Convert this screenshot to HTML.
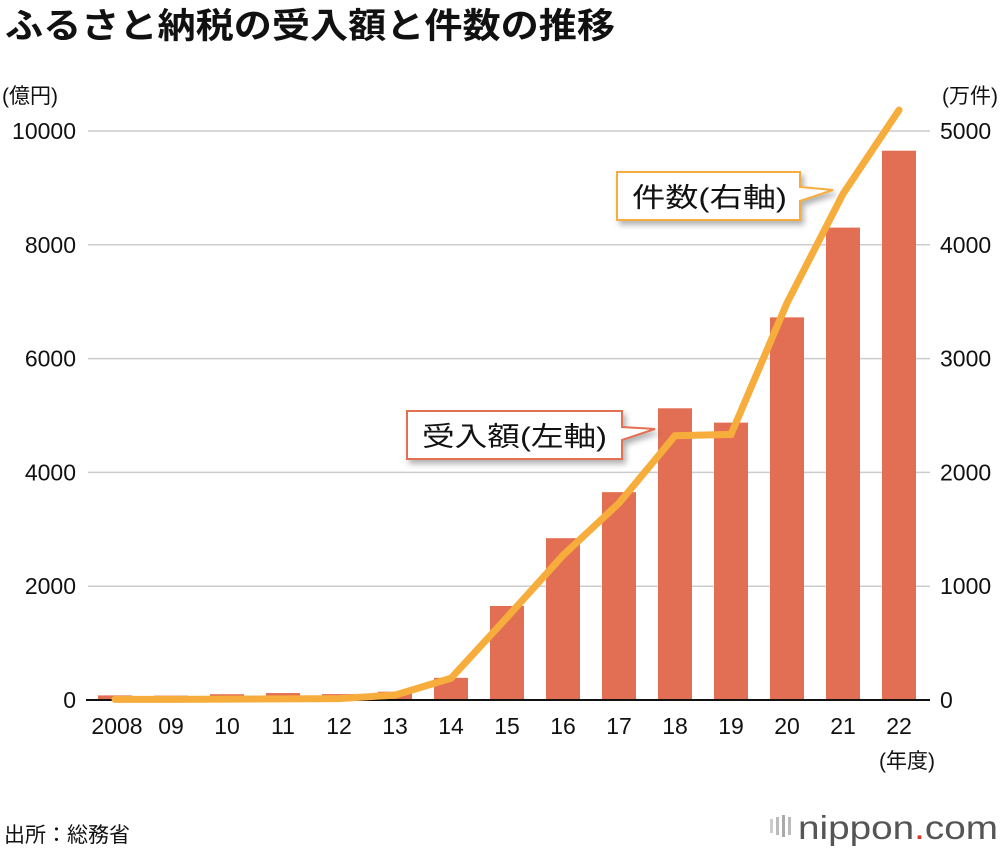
<!DOCTYPE html>
<html><head><meta charset="utf-8">
<style>
body{margin:0;background:#fff;}
svg text{font-family:"Liberation Sans","Noto Sans CJK JP",sans-serif;}
</style></head>
<body>
<svg width="1000" height="850" viewBox="0 0 1000 850" xmlns="http://www.w3.org/2000/svg">
<defs>
<filter id="sh" x="-10%" y="-10%" width="130%" height="150%"><feDropShadow dx="3" dy="4" stdDeviation="3" flood-color="#000" flood-opacity="0.3"/></filter>
</defs>
<text x="5" y="38" font-size="35" font-weight="bold" fill="#111" textLength="610" lengthAdjust="spacingAndGlyphs">ふるさと納税の受入額と件数の推移</text>
<text x="2" y="103" font-size="21" fill="#111">(億円)</text>
<text x="998" y="103" font-size="21" fill="#111" text-anchor="end">(万件)</text>
<g id="grid"></g>
<g id="bars"></g>
<line x1="86" y1="700" x2="930" y2="700" stroke="#111" stroke-width="2"/>
<polyline id="line" fill="none" stroke="#f7ad3c" stroke-width="7" stroke-linejoin="miter" stroke-linecap="round"/>
<g id="labels"></g>
<text x="935" y="768" font-size="21" fill="#111" text-anchor="end">(年度)</text>
<g filter="url(#sh)">
<path d="M617,172 H800 V187 L833,190 L800,201 V220 H617 Z" fill="#fff" stroke="#f7ad3c" stroke-width="2"/>
</g>
<text x="632" y="207" font-size="27" fill="#111" textLength="155" lengthAdjust="spacingAndGlyphs">件数(右軸)</text>
<g filter="url(#sh)">
<path d="M407,411 H622 V427 L655,429 L622,440 V459 H407 Z" fill="#fff" stroke="#e26f53" stroke-width="2"/>
</g>
<text x="422" y="446" font-size="27" fill="#111" textLength="185" lengthAdjust="spacingAndGlyphs">受入額(左軸)</text>
<text x="4" y="842" font-size="21" fill="#111">出所：総務省</text>
<g>
<rect x="770" y="819" width="3" height="14" fill="#ccc"/><rect x="776" y="817" width="3" height="18" fill="#bbb"/><rect x="782" y="815" width="3" height="22" fill="#aaa"/><rect x="788" y="817" width="3" height="18" fill="#bbb"/>
<text x="998" y="839" font-size="33" fill="#555" text-anchor="end" textLength="200" lengthAdjust="spacingAndGlyphs">nippon<tspan fill="#e03020">.</tspan>com</text>
</g>
</svg>
<script>
const years=["2008","09","10","11","12","13","14","15","16","17","18","19","20","21","22"];
const amounts=[81,77,102,122,104,146,389,1653,2844,3653,5127,4875,6725,8302,9654];
const counts=[5.4,5.7,8,10,12,43,191,726,1271,1730,2322,2334,3489,4447,5184];
const leftTicks=[0,2000,4000,6000,8000,10000];
const rightTicks=[0,1000,2000,3000,4000,5000];
const NS="http://www.w3.org/2000/svg";
const y0=700,yTop=131;
const yL=v=>y0-(v/10000)*(y0-yTop);
const yR=v=>y0-(v/5000)*(y0-yTop);
const xC=i=>115+i*56;
function mk(tag,attrs,parent){const e=document.createElementNS(NS,tag);for(const k in attrs)e.setAttribute(k,attrs[k]);parent.appendChild(e);return e;}
const grid=document.getElementById('grid'),bars=document.getElementById('bars'),labels=document.getElementById('labels');
leftTicks.forEach((t,i)=>{
 if(t>0){const g=mk('line',{x1:88,x2:930,y1:yL(t),y2:yL(t),stroke:'#ccc','stroke-width':1.5},grid);
 
 }
 const a=mk('text',{x:76,y:yL(t)+8,'font-size':23,fill:'#111','text-anchor':'end'},labels);a.textContent=t;
 
 
});
rightTicks.forEach(t=>{
 const a=mk('text',{x:940,y:yR(t)+8,'font-size':23,fill:'#111'},labels);a.textContent=t;
 
 
});
amounts.forEach((v,i)=>{
 const r=mk('rect',{x:xC(i)-17,y:yL(v),width:34,height:y0-yL(v),fill:'#e26f53'},bars);
 
 
});
years.forEach((yr,i)=>{
 const a=mk('text',{x:xC(i)+(i==0?2:0),y:734,'font-size':23,fill:'#111','text-anchor':'middle'},labels);a.textContent=yr;
 
 
});
document.getElementById('line').setAttribute('points',counts.map((v,i)=>xC(i)+','+yR(v)).join(' '));
</script>
</body></html>
